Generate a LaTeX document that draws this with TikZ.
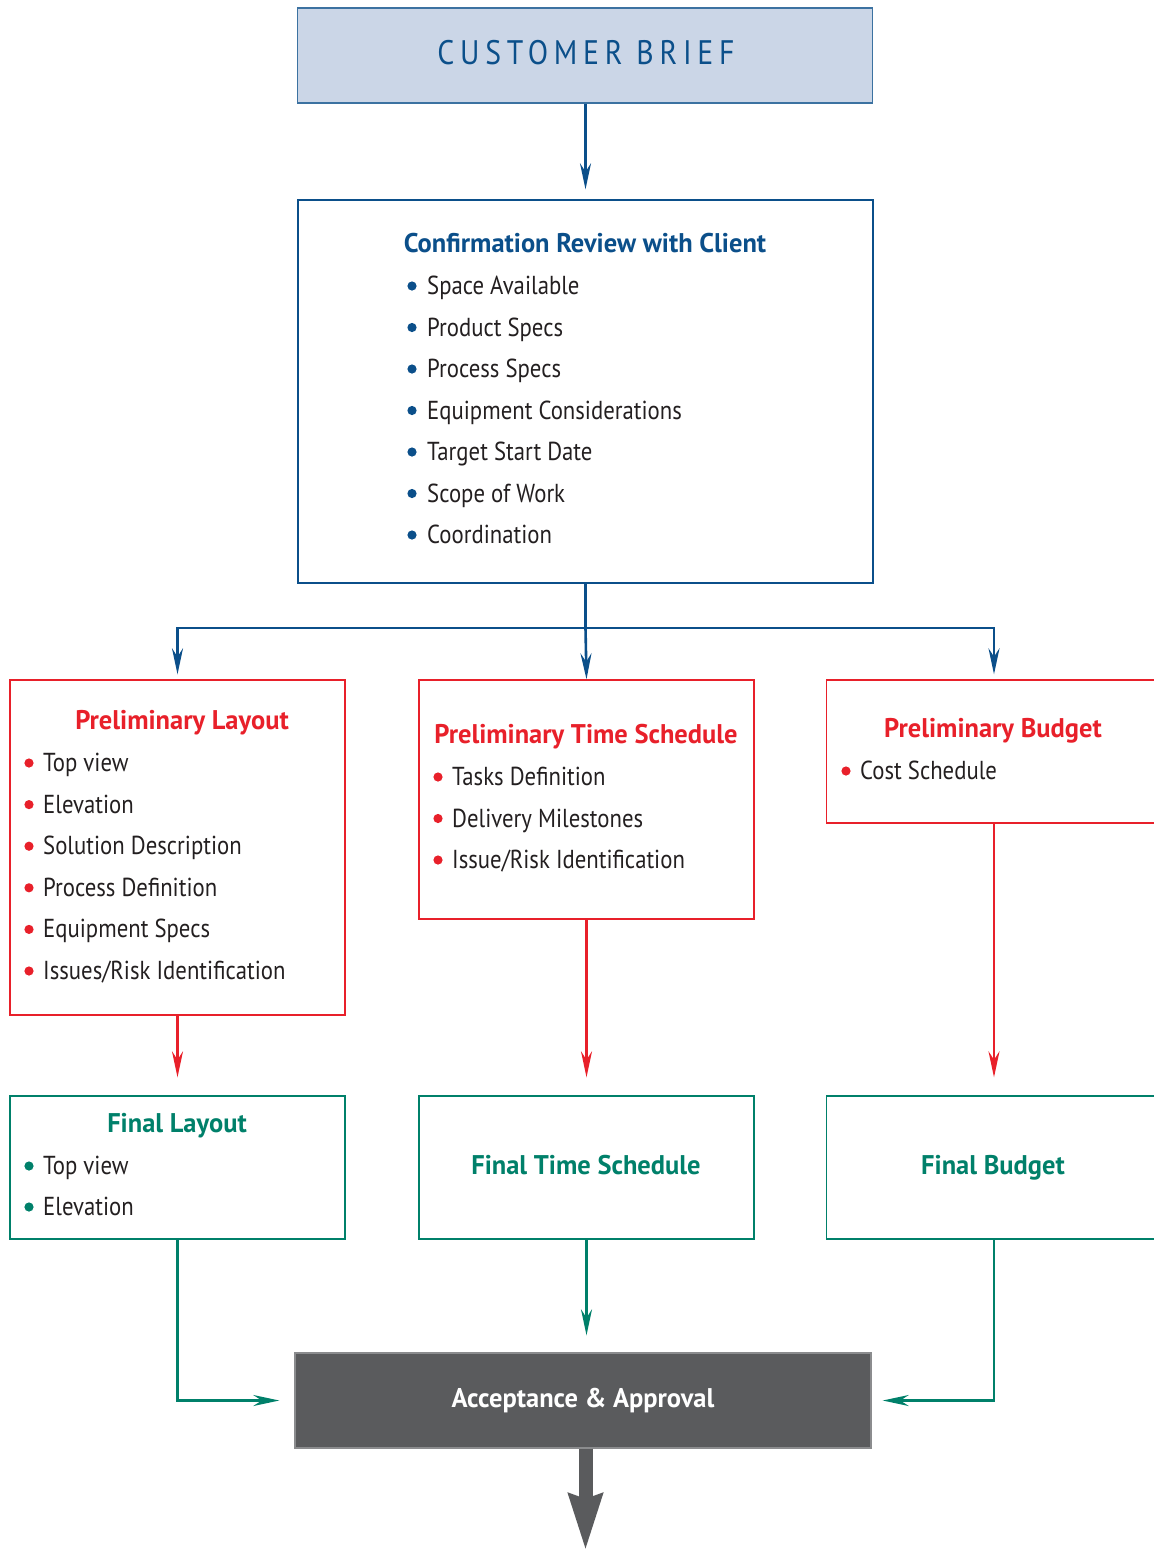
\documentclass[tikz,border=0pt]{standalone}
\usepackage{fontspec}
\setmainfont{PT Sans}[FakeStretch=0.875]
\newfontfamily\titlefont{PT Sans}[FakeStretch=0.98]
\usetikzlibrary{arrows.meta}
\definecolor{cbblue}{HTML}{0B4F8A}
\definecolor{cbfill}{HTML}{CBD6E7}
\definecolor{cbred}{HTML}{E8202A}
\definecolor{cbgreen}{HTML}{00806A}
\definecolor{cbgray}{HTML}{5A5B5D}
\definecolor{cbtext}{HTML}{231F20}
\begin{document}
\begin{tikzpicture}[x=1pt,y=-1pt,
  every node/.style={font=\fontsize{26}{30}\selectfont},
  box/.style={draw,line width=1.4pt,inner sep=0pt,minimum width=335pt},
  title/.style={font=\fontsize{27}{30}\selectfont\titlefont\bfseries,anchor=mid,yshift=-6pt},
  item/.style={text=cbtext,anchor=mid west,inner sep=0pt,yshift=-6pt},
  tip/.style={-{Stealth[length=26pt,width=11pt]}},
  bline/.style={cbblue,line width=2.6pt,tip},
  rline/.style={cbred,line width=2.4pt,tip},
  gline/.style={cbgreen,line width=2.4pt,tip}]
\useasboundingbox (0,0) rectangle (1154,1551);
\clip (0,0) rectangle (1154,1551);
% top
\node[box,draw=cbblue!80,fill=cbfill,minimum width=575pt,minimum height=95pt] (brief) at (585,55.5) {};
\node[text=cbblue,font=\fontsize{34}{36}\selectfont\addfontfeatures{LetterSpace=17}] (brieftxt) at (586,53) {CUSTOMER BRIEF};
\node[box,draw=cbblue,minimum width=575pt,minimum height=383pt] (conf) at (585.5,391.5) {};
\node[title,text=cbblue] (conftitle) at (585,244) {Confirmation Review with Client};
\foreach \t [count=\i] in {Space Available,Product Specs,Process Specs,Equipment Considerations,Target Start Date,Scope of Work,Coordination}{
  \fill[cbblue] (412,{286+41.5*(\i-1)}) circle (4.6pt);
  \node[item] (conf-\i) at (427,{286+41.5*(\i-1)}) {\t};
}
% preliminary
\node[box,draw=cbred,minimum height=335pt] (pl) at (177.5,847.5) {};
\node[title,text=cbred] (pltitle) at (182,721) {Preliminary Layout};
\foreach \t [count=\i] in {Top view,Elevation,Solution Description,Process Definition,Equipment Specs,Issues/Risk Identification}{
  \fill[cbred] (29,{763+41.6*(\i-1)}) circle (4.6pt);
  \node[item] (pl-\i) at (43,{763+41.6*(\i-1)}) {\t};
}
\node[box,draw=cbred,minimum height=239pt] (pts) at (586.5,799.5) {};
\node[title,text=cbred] (ptstitle) at (586,735) {Preliminary Time Schedule};
\foreach \t [count=\i] in {Tasks Definition,Delivery Milestones,Issue/Risk Identification}{
  \fill[cbred] (438,{777+41.5*(\i-1)}) circle (4.6pt);
  \node[item] (pts-\i) at (452,{777+41.5*(\i-1)}) {\t};
}
\node[box,draw=cbred,minimum height=143pt] (pb) at (994,751.5) {};
\node[title,text=cbred] (pbtitle) at (993,729) {Preliminary Budget};
\fill[cbred] (846,771) circle (4.6pt);
\node[item] (pb-1) at (860,771) {Cost Schedule};
% final
\node[box,draw=cbgreen,minimum height=143pt] (fl) at (177.5,1167.5) {};
\node[title,text=cbgreen] (fltitle) at (177,1124) {Final Layout};
\foreach \t [count=\i] in {Top view,Elevation}{
  \fill[cbgreen] (29,{1166+41*(\i-1)}) circle (4.6pt);
  \node[item] (fl-\i) at (43,{1166+41*(\i-1)}) {\t};
}
\node[box,draw=cbgreen,minimum height=143pt] (fts) at (586.5,1167.5) {};
\node[title,text=cbgreen] (ftstitle) at (586,1166) {Final Time Schedule};
\node[box,draw=cbgreen,minimum height=143pt] (fb) at (994,1167.5) {};
\node[title,text=cbgreen] (fbtitle) at (993,1166) {Final Budget};
% approval
\node[box,draw=cbgray!70,fill=cbgray,minimum width=576pt,minimum height=95pt] (acc) at (583,1400.5) {};
\node[title,text=white] (acctitle) at (583,1399) {Acceptance \& Approval};
\coordinate (split) at (585.5,628);
\coordinate (exit) at (585.5,1551);
% connectors
\draw[bline,shorten >=10pt] (brief.south -| split) -- (conf.north -| split);
\draw[bline,-] (conf.south) -- (split);
\draw[bline,shorten >=5pt] (split) -| (pl.north);
\draw[bline,shorten >=5pt] (split) -| (pb.north);
\draw[bline] (split) -- (pts.north);
\draw[rline,shorten >=18pt] (pl.south) -- (fl.north);
\draw[rline,shorten >=18pt] (pts.south) -- (fts.north);
\draw[rline,shorten >=18pt] (pb.south) -- (fb.north);
\draw[gline,shorten >=15pt] (fl.south) |- (acc.west);
\draw[gline,shorten >=17pt] (fts.south) -- (fts.south |- acc.north);
\draw[gline,shorten >=11pt] (fb.south) |- (acc.east);
\draw[cbgray,line width=14pt,-{Stealth[length=56pt,width=32pt,inset=4pt]}] (acc.south -| exit) -- (exit);
\end{tikzpicture}
\end{document}
